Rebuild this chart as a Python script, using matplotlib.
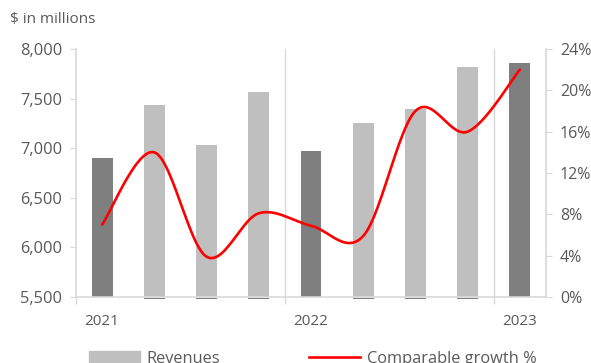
import matplotlib.pyplot as plt
from matplotlib.lines import Line2D
from matplotlib.patches import Patch
from matplotlib.ticker import FuncFormatter, FixedLocator
import numpy as np

plt.rcParams["font.family"] = ["Open Sans", "DejaVu Sans"]

# quarterly revenues ($m) and comparable growth (%)
quarters = ["Q1 21", "Q2 21", "Q3 21", "Q4 21", "Q1 22", "Q2 22", "Q3 22", "Q4 22", "Q1 23"]
revenues = [6900, 7440, 7030, 7570, 6970, 7250, 7400, 7820, 7860]
growth = [7.0, 14.0, 3.9, 8.1, 6.9, 5.9, 18.0, 16.0, 22.0]
year_labels = ["2021", "", "", "", "2022", "", "", "", "2023"]

DARK = "#7f7f7f"
LIGHT = "#bfbfbf"
SPINE = "#d9d9d9"
TEXT = "#595959"


def smooth(x, y, n=30):
    # Bezier curve through the points, like Excel's smoothed line
    x = np.asarray(x, float)
    y = np.asarray(y, float)
    px = np.concatenate([[x[0]], x, [x[-1]]])
    py = np.concatenate([[y[0]], y, [y[-1]]])
    xs, ys = [], []
    t = np.linspace(0, 1, n)
    for i in range(1, len(px) - 2):
        p0 = np.array([px[i], py[i]])
        p3 = np.array([px[i + 1], py[i + 1]])
        p1 = p0 + (np.array([px[i + 1], py[i + 1]]) - np.array([px[i - 1], py[i - 1]])) / 6
        p2 = p3 - (np.array([px[i + 2], py[i + 2]]) - np.array([px[i], py[i]])) / 6
        b = ((1 - t) ** 3)[:, None] * p0 + (3 * (1 - t) ** 2 * t)[:, None] * p1 \
            + (3 * (1 - t) * t ** 2)[:, None] * p2 + (t ** 3)[:, None] * p3
        xs.extend(b[:, 0])
        ys.extend(b[:, 1])
    return np.array(xs), np.array(ys)


fig = plt.figure(figsize=(5.91, 3.63), dpi=100)
ax = fig.add_axes([76 / 591, 1 - 297 / 363, 470 / 591, 248 / 363])

x = np.arange(len(revenues))
colors = [DARK if lab else LIGHT for lab in year_labels]
ax.bar(x, [v - 5500 for v in revenues], bottom=5500, width=0.4, color=colors, zorder=2)
# thin dark base under the light bars
for xi, c in zip(x, colors):
    if c == LIGHT:
        ax.bar(xi, 14, bottom=5478, width=0.4, color=DARK, clip_on=False, zorder=1)

ax.set_xlim(-0.5, len(x) - 0.5)
ax.set_ylim(5500, 8000)
ax.set_yticks(range(5500, 8001, 500))
ax.yaxis.set_major_formatter(FuncFormatter(lambda v, p: f"{int(v):,}"))
ax.set_xticks(x)
ax.set_xticklabels(year_labels)
ax.xaxis.set_minor_locator(FixedLocator([-0.5, 3.5, 7.5]))
for sep in [3.5, 7.5]:
    ax.axvline(sep, color=SPINE, lw=1, zorder=0)

for s in ["top", "right"]:
    ax.spines[s].set_visible(False)
for s in ["left", "bottom"]:
    ax.spines[s].set_color(SPINE)
    ax.spines[s].set_linewidth(1.2)
ax.tick_params(axis="y", colors=SPINE, labelcolor=TEXT, labelsize=11.8, length=4, pad=6)
ax.tick_params(axis="x", which="major", length=0, labelcolor=TEXT, labelsize=11, pad=12)
ax.tick_params(axis="x", which="minor", length=5, color=SPINE, width=1)

ax2 = ax.twinx()
ax2.set_ylim(0, 24)
ax2.set_yticks(range(0, 25, 4))
ax2.yaxis.set_major_formatter(FuncFormatter(lambda v, p: f"{int(v)}%"))
for s in ["top", "left", "bottom"]:
    ax2.spines[s].set_visible(False)
ax2.spines["right"].set_color(SPINE)
ax2.spines["right"].set_linewidth(1.2)
ax2.tick_params(axis="y", colors=SPINE, labelcolor=TEXT, labelsize=11.5, length=4, pad=6)

sx, sy = smooth(x, growth)
ax2.plot(sx, sy, color="#ff0000", lw=1.9, solid_capstyle="round", zorder=3)

fig.text(10 / 591, 1 - 20 / 363, "$ in millions", color=TEXT, fontsize=11, va="center")

handles = [Patch(color=LIGHT), Line2D([], [], color="#ff0000", lw=1.9)]
fig.legend(handles, ["Revenues", "Comparable growth %"], loc="center",
           bbox_to_anchor=(0.529, 1 - 359 / 363), ncol=2, frameon=False,
           fontsize=11.8, labelcolor=TEXT, handlelength=3.1, handleheight=0.75,
           columnspacing=5.4, handletextpad=0.42)

fig.savefig("out.png", dpi=100)
